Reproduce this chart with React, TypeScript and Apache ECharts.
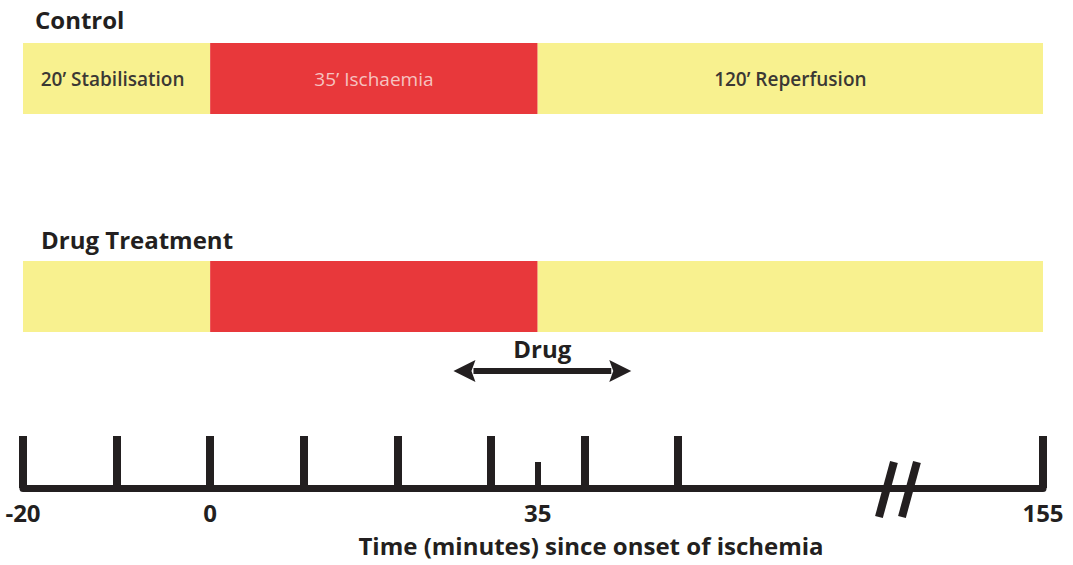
import React, { useEffect, useRef } from "react";
import * as echarts from "echarts";

// ---- data ----
const rowNames = ["Control", "Drug Treatment"];
const phaseNames = ["Stabilisation", "Ischaemia", "Reperfusion"];
const phaseStart = [-20, 0, 35];
const phaseEnd = [0, 35, 155];
const controlLabels = ["20’ Stabilisation", "35’ Ischaemia", "120’ Reperfusion"];
const drugLabel = "Drug";
const drugWindow = [26, 45];
const majorTicks = [-20, -10, 0, 10, 20, 30, 40, 50, 155];
const minorTicks = [35];
const tickLabels = [-20, 0, 35, 155];
const axisBreak = [73.5, 139.5]; // minutes hidden by the "//" break
const axisTitle = "Time (minutes) since onset of ischemia";

// ---- styles ----
const YELLOW = "#f8f18f";
const RED = "#e8383b";
const INK = "#231f20";
const phaseColors = [YELLOW, RED, YELLOW];
const labelColors = ["#3b3834", "#f6c3c0", "#3b3834"];
const FONT = "'Open Sans', 'Noto Sans', sans-serif";

const gap = axisBreak[1] - axisBreak[0];
const disp = (t: number) => (t <= axisBreak[0] ? t : t - gap);
const undisp = (v: number) => (v <= axisBreak[0] ? v : v + gap);

const X_MIN = disp(-20);
const X_MAX = disp(155);
const LEFT = 23;
const RIGHT = 30;

export default function App() {
  const ref = useRef<HTMLDivElement>(null);

  useEffect(() => {
    if (!ref.current) return;
    const chart = echarts.init(ref.current, undefined, { renderer: "svg" });

    const phaseData = phaseStart.map((s, i) => [disp(s), disp(phaseEnd[i]), 0]);

    const makePhaseSeries = (gridIdx: number, withLabels: boolean) => ({
      type: "custom",
      xAxisIndex: gridIdx,
      yAxisIndex: gridIdx,
      encode: { x: [0, 1], y: 2 },
      data: phaseData,
      renderItem: (params: any, api: any) => {
        const x0 = api.coord([api.value(0), 0])[0];
        const x1 = api.coord([api.value(1), 0])[0];
        const cs = params.coordSys;
        const i = params.dataIndex;
        const children: any[] = [
          {
            type: "rect",
            shape: { x: x0, y: cs.y, width: x1 - x0, height: cs.height },
            style: { fill: phaseColors[i] },
          },
        ];
        if (withLabels) {
          children.push({
            type: "text",
            x: (x0 + x1) / 2 - (i === 0 ? 4 : 0),
            y: cs.y + cs.height / 2,
            style: {
              text: controlLabels[i],
              fill: labelColors[i],
              fontSize: 19,
              fontWeight: i === 1 ? 500 : 600,
              fontFamily: FONT,
              align: "center",
              verticalAlign: "middle",
            },
          });
        }
        return { type: "group", children };
      },
    });

    const hiddenX = (gridIndex: number) => ({
      type: "value",
      gridIndex,
      min: X_MIN,
      max: X_MAX,
      show: false,
    });
    const hiddenY = (gridIndex: number) => ({
      type: "value",
      gridIndex,
      min: 0,
      max: 1,
      show: false,
    });

    const titleStyle = { fontSize: 24, fontWeight: "bold", color: INK, fontFamily: FONT };

    const option: any = {
      animation: false,
      backgroundColor: "#ffffff",
      title: [
        { text: rowNames[0], left: 30, top: 2, textStyle: titleStyle },
        { text: rowNames[1], left: 36, top: 222, textStyle: titleStyle },
      ],
      grid: [
        { left: LEFT, right: RIGHT, top: 43, height: 71 },
        { left: LEFT, right: RIGHT, top: 261, height: 71 },
        { left: LEFT, right: RIGHT, top: 330, bottom: 77 },
      ],
      xAxis: [
        hiddenX(0),
        hiddenX(1),
        {
          type: "value",
          gridIndex: 2,
          position: "bottom",
          min: X_MIN,
          max: X_MAX,
          splitLine: { show: false },
          axisLine: { show: true, lineStyle: { color: INK, width: 7 } },
          axisTick: {
            show: true,
            inside: true,
            length: 52,
            customValues: majorTicks.map(disp),
            lineStyle: { color: INK, width: 8 },
          },
          axisLabel: {
            show: true,
            customValues: tickLabels.map(disp),
            margin: 12,
            fontSize: 24,
            fontWeight: "bold",
            color: INK,
            fontFamily: FONT,
            formatter: (v: number) => String(Math.round(undisp(v))),
          },
        },
        {
          type: "value",
          gridIndex: 2,
          position: "bottom",
          min: X_MIN,
          max: X_MAX,
          splitLine: { show: false },
          axisLine: { show: false },
          axisTick: {
            show: true,
            inside: true,
            length: 26,
            customValues: minorTicks.map(disp),
            lineStyle: { color: INK, width: 6 },
          },
          axisLabel: { show: false },
        },
      ],
      yAxis: [hiddenY(0), hiddenY(1), hiddenY(2)],
      graphic: [
        {
          type: "text",
          x: 591,
          y: 545,
          style: {
            text: axisTitle,
            fill: INK,
            fontSize: 24,
            fontWeight: "bold",
            fontFamily: FONT,
            align: "center",
            verticalAlign: "middle",
          },
        },
      ],
      series: [
        makePhaseSeries(0, true),
        makePhaseSeries(1, false),
        {
          type: "custom",
          xAxisIndex: 2,
          yAxisIndex: 2,
          encode: { x: [0, 1], y: 2 },
          data: [[disp(drugWindow[0]), disp(drugWindow[1]), 0]],
          renderItem: (params: any, api: any) => {
            const x0 = api.coord([api.value(0), 0])[0];
            const x1 = api.coord([api.value(1), 0])[0];
            const y = params.coordSys.y + 41;
            const head = 22;
            const hw = 11;
            return {
              type: "group",
              children: [
                {
                  type: "rect",
                  shape: { x: x0 + head - 2, y: y - 3, width: x1 - x0 - 2 * head + 4, height: 6 },
                  style: { fill: INK },
                },
                {
                  type: "polygon",
                  shape: { points: [[x0, y], [x0 + head, y - hw], [x0 + head - 4, y], [x0 + head, y + hw]] },
                  style: { fill: INK },
                },
                {
                  type: "polygon",
                  shape: { points: [[x1, y], [x1 - head, y - hw], [x1 - head + 4, y], [x1 - head, y + hw]] },
                  style: { fill: INK },
                },
                {
                  type: "text",
                  x: (x0 + x1) / 2,
                  y: y - 23,
                  style: {
                    text: drugLabel,
                    fill: INK,
                    fontSize: 24,
                    fontWeight: "bold",
                    fontFamily: FONT,
                    align: "center",
                    verticalAlign: "middle",
                  },
                },
              ],
            };
          },
        },
        {
          type: "custom",
          xAxisIndex: 2,
          yAxisIndex: 2,
          encode: { x: 0, y: 1 },
          data: [[axisBreak[0], 0]],
          z: 5,
          renderItem: (params: any, api: any) => {
            const p = api.coord([api.value(0), 0]);
            const cx = p[0];
            const cy = p[1] + 1;
            const mk = (dx: number) => ({
              type: "line",
              shape: { x1: cx + dx + 7.5, y1: cy - 27, x2: cx + dx - 7.5, y2: cy + 28 },
              style: { stroke: INK, lineWidth: 8 },
            });
            return { type: "group", children: [mk(-11.5), mk(11.5)] };
          },
        },
      ],
    };

    chart.setOption(option);
    return () => chart.dispose();
  }, []);

  return (
    <div
      ref={ref}
      style={{ position: "fixed", left: 0, top: 0, width: 1073, height: 565, background: "#fff" }}
    />
  );
}
